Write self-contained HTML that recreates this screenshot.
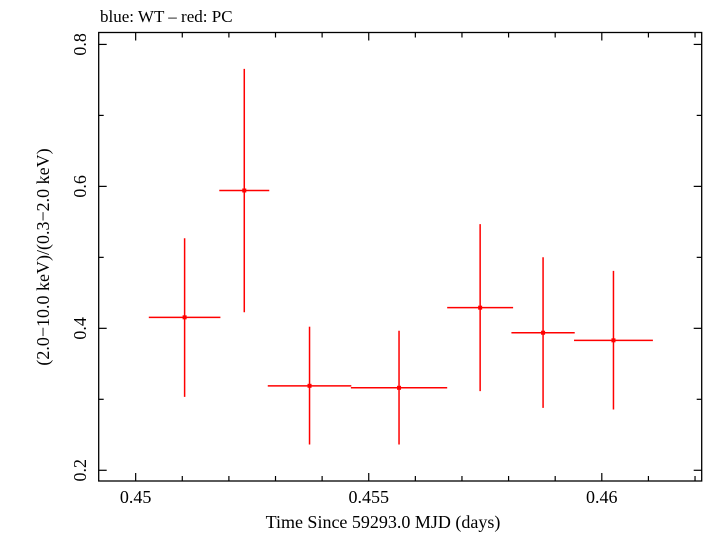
<!DOCTYPE html>
<html><head><meta charset="utf-8"><style>
html,body{margin:0;padding:0;background:#fff;}
svg text{font-family:"Liberation Serif",serif;fill:#000;}
</style></head><body>
<svg id="chart" width="705" height="532" viewBox="0 0 705 532" xmlns="http://www.w3.org/2000/svg">
<text x="100" y="22" font-size="17">blue: WT – red: PC</text>
<rect x="98.7" y="32.5" width="603" height="448.5" fill="none" stroke="#000" stroke-width="1.3"/>
<g id="ticks"></g>
<g id="marks"></g>
<text x="383" y="528" font-size="18" text-anchor="middle">Time Since 59293.0 MJD (days)</text>
<text transform="translate(49,257) rotate(-90)" font-size="18" text-anchor="middle">(2.0−10.0 keV)/(0.3−2.0 keV)</text>
</svg>
<script>
const xCenters=[0.45105,0.45233,0.45373,0.45565,0.45739,0.45874,0.46025];
const xHalfWidths=[0.000768,0.000536,0.000896,0.001033,0.000707,0.000679,0.000846];
const yValues=[0.4155,0.5942,0.319,0.3162,0.4291,0.3938,0.3831];
const yUpper=[0.527,0.7656,0.4023,0.3966,0.5468,0.5002,0.4809];
const yLower=[0.3035,0.4226,0.2363,0.2363,0.3115,0.2879,0.2857];
const xTickLabels=["0.45","0.455","0.46"];
const yTickLabels=["0.2","0.4","0.6","0.8"];
const X0=0.449207,X1=0.462143,Y0=0.1849,Y1=0.8168;
const PL=98.7,PR=701.7,PT=32.5,PB=481;
function sx(v){return PL+(v-X0)/(X1-X0)*(PR-PL);}
function sy(v){return PB-(v-Y0)/(Y1-Y0)*(PB-PT);}
const NS="http://www.w3.org/2000/svg";
const svg=document.getElementById('chart');
const tk=document.getElementById('ticks');
const mk=document.getElementById('marks');
function line(p,x1,y1,x2,y2,c,w,name){const l=document.createElementNS(NS,'line');
l.setAttribute('x1',x1);l.setAttribute('y1',y1);l.setAttribute('x2',x2);l.setAttribute('y2',y2);
l.setAttribute('stroke',c);l.setAttribute('stroke-width',w);


p.appendChild(l);return l;}
// x ticks
for(let i=0;i<=12;i++){const v=0.450+i*0.001;if(v<X0||v>X1)continue;
 const major=i%5===0;const L=major?8:5;const x=sx(v);
 line(tk,x,PB,x,PB-L,'#000',1.2,'x-tick');line(tk,x,PT,x,PT+L,'#000',1.2,'x-tick');}
for(let i=0;i<xTickLabels.length;i++){const v=parseFloat(xTickLabels[i]);const t=document.createElementNS(NS,'text');
 t.setAttribute('x',sx(v));t.setAttribute('y',503);t.setAttribute('font-size','18');t.setAttribute('text-anchor','middle');t.textContent=xTickLabels[i];
 
 
 svg.appendChild(t);}
// y ticks
for(let i=2;i<=8;i++){const v=i/10;const major=i%2===0;const L=major?8:5;const y=sy(v);
 line(tk,PL,y,PL+L,y,'#000',1.2,'y-tick');line(tk,PR,y,PR-L,y,'#000',1.2,'y-tick');}
for(let i=0;i<yTickLabels.length;i++){const v=parseFloat(yTickLabels[i]);const t=document.createElementNS(NS,'text');
 t.setAttribute('transform','translate(86,'+sy(v)+') rotate(-90)');t.setAttribute('font-size','18');t.setAttribute('text-anchor','middle');t.textContent=yTickLabels[i];
 
 
 svg.appendChild(t);}
// data
for(let i=0;i<xCenters.length;i++){const cx=sx(xCenters[i]),cy=sy(yValues[i]);
 line(mk,sx(xCenters[i]-xHalfWidths[i]),cy,sx(xCenters[i]+xHalfWidths[i]),cy,'#f00',1.5,'x-error-bar');
 line(mk,cx,sy(yUpper[i]),cx,sy(yLower[i]),'#f00',1.5,'y-error-bar');
 const r=document.createElementNS(NS,'rect');r.setAttribute('x',cx-2);r.setAttribute('y',cy-2);r.setAttribute('width',4);r.setAttribute('height',4);r.setAttribute('fill','#f00');
 
 
 mk.appendChild(r);}
</script>
</body></html>
